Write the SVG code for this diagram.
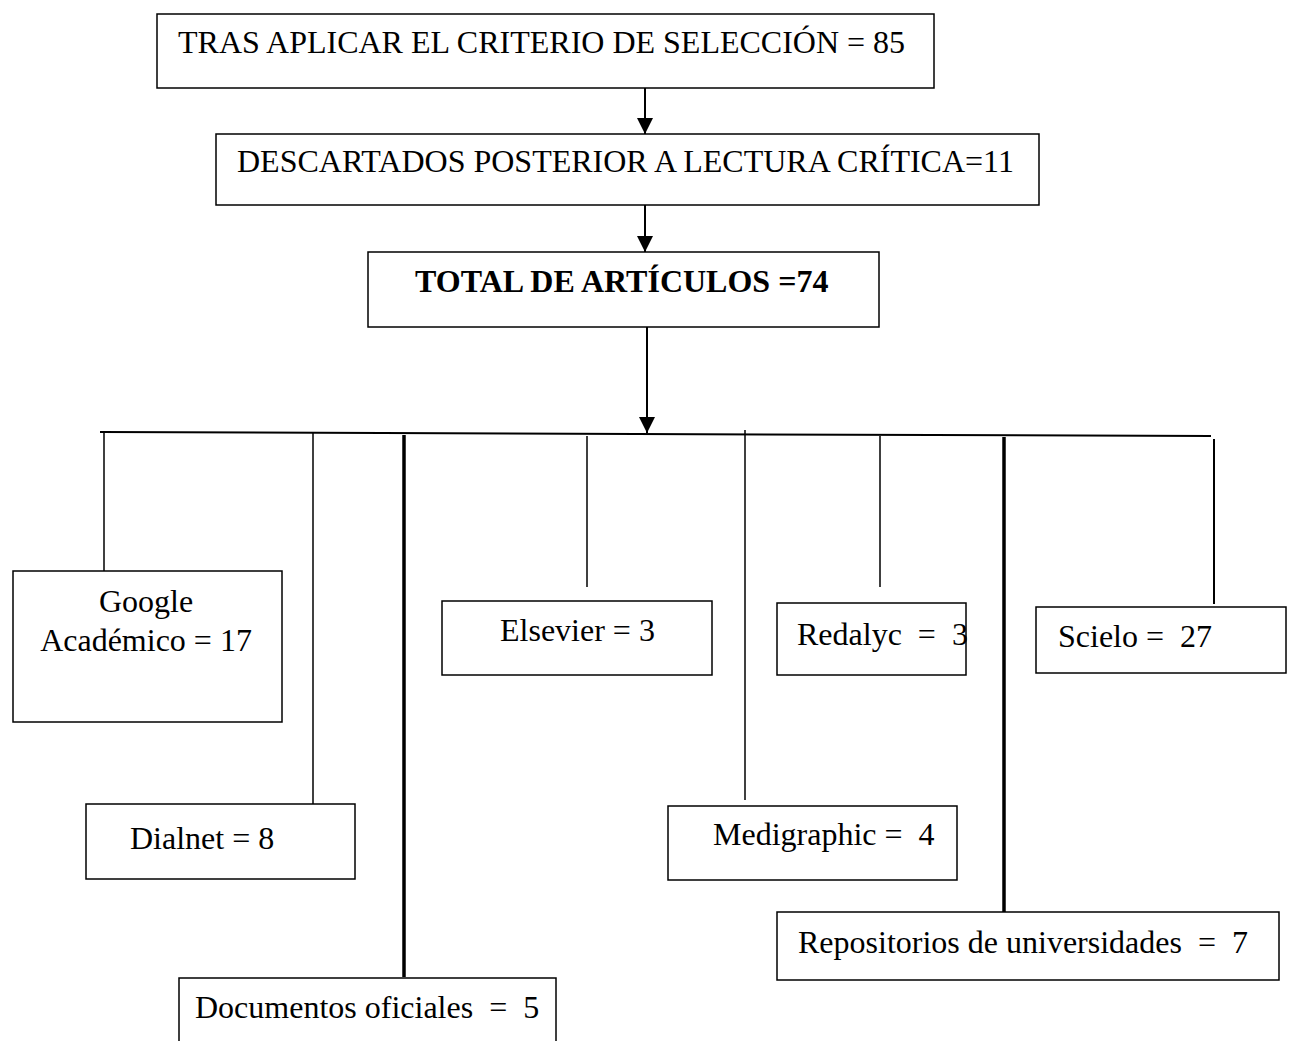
<svg xmlns="http://www.w3.org/2000/svg" width="1291" height="1041" viewBox="0 0 1291 1041">
<style>
  .box { fill: #ffffff; stroke: #000000; stroke-width: 1.5; }
  .t { font-family: "Liberation Serif", "Times New Roman", serif; font-size: 32px; fill: #000000; }
  .b { font-weight: bold; }
  .ln { stroke: #000000; stroke-width: 1.5; fill: none; }
  .thick { stroke-width: 3.5; }
  .arr { stroke: #000000; stroke-width: 2; fill: none; marker-end: url(#ah); }
</style>
<defs>
  <marker id="ah" markerUnits="userSpaceOnUse" markerWidth="16" markerHeight="16" viewBox="0 0 16 16" refX="16" refY="8" orient="auto">
    <path d="M0,0 L16,8 L0,16 Z" fill="#000000"/>
  </marker>
</defs>
<rect width="1291" height="1041" fill="#ffffff"/>
<g id="connectors">
  <line class="arr" x1="645" y1="88" x2="645" y2="134"/>
  <line class="arr" x1="645" y1="205" x2="645" y2="252"/>
  <line class="arr" x1="647" y1="327" x2="647" y2="433"/>
  <line class="ln" stroke-width="2" x1="100" y1="432" x2="1211" y2="436" style="stroke-width:2"/>
  <line class="ln" x1="104" y1="432" x2="104" y2="571"/>
  <line class="ln" x1="313" y1="433" x2="313" y2="804"/>
  <line class="ln thick" x1="404" y1="435" x2="404" y2="977"/>
  <line class="ln" x1="587" y1="436" x2="587" y2="587"/>
  <line class="ln" x1="745" y1="430" x2="745" y2="800"/>
  <line class="ln" x1="880" y1="436" x2="880" y2="587"/>
  <line class="ln thick" x1="1004" y1="437" x2="1004" y2="912"/>
  <line class="ln" x1="1214" y1="439" x2="1214" y2="604" style="stroke-width:2"/>
</g>
<g id="n-criterio">
  <rect class="box" x="157" y="14" width="777" height="74"/>
  <text class="t" x="178" y="53">TRAS APLICAR EL CRITERIO DE SELECCIÓN = 85</text>
</g>
<g id="n-descartados">
  <rect class="box" x="216" y="134" width="823" height="71"/>
  <text class="t" x="237" y="172">DESCARTADOS POSTERIOR A LECTURA CRÍTICA=11</text>
</g>
<g id="n-total">
  <rect class="box" x="368" y="252" width="511" height="75"/>
  <text class="t b" x="415" y="292">TOTAL DE ARTÍCULOS =74</text>
</g>
<g id="n-google">
  <rect class="box" x="13" y="571" width="269" height="151"/>
  <text class="t" x="146" y="612" text-anchor="middle">Google</text>
  <text class="t" x="146" y="651" text-anchor="middle">Académico = 17</text>
</g>
<g id="n-dialnet">
  <rect class="box" x="86" y="804" width="269" height="75"/>
  <text class="t" x="130" y="849">Dialnet = 8</text>
</g>
<g id="n-documentos">
  <rect class="box" x="179" y="978" width="377" height="80"/>
  <text class="t" x="195" y="1018" xml:space="preserve">Documentos oficiales  =  5</text>
</g>
<g id="n-elsevier">
  <rect class="box" x="442" y="601" width="270" height="74"/>
  <text class="t" x="500" y="641">Elsevier = 3</text>
</g>
<g id="n-redalyc">
  <rect class="box" x="777" y="603" width="189" height="72"/>
  <text class="t" x="797" y="645" xml:space="preserve">Redalyc  =  3</text>
</g>
<g id="n-medigraphic">
  <rect class="box" x="668" y="806" width="289" height="74"/>
  <text class="t" x="713" y="845" xml:space="preserve">Medigraphic =  4</text>
</g>
<g id="n-repositorios">
  <rect class="box" x="777" y="912" width="502" height="68"/>
  <text class="t" x="798" y="953" xml:space="preserve">Repositorios de universidades  =  7</text>
</g>
<g id="n-scielo">
  <rect class="box" x="1036" y="607" width="250" height="66"/>
  <text class="t" x="1058" y="647" xml:space="preserve">Scielo =  27</text>
</g>
</svg>
